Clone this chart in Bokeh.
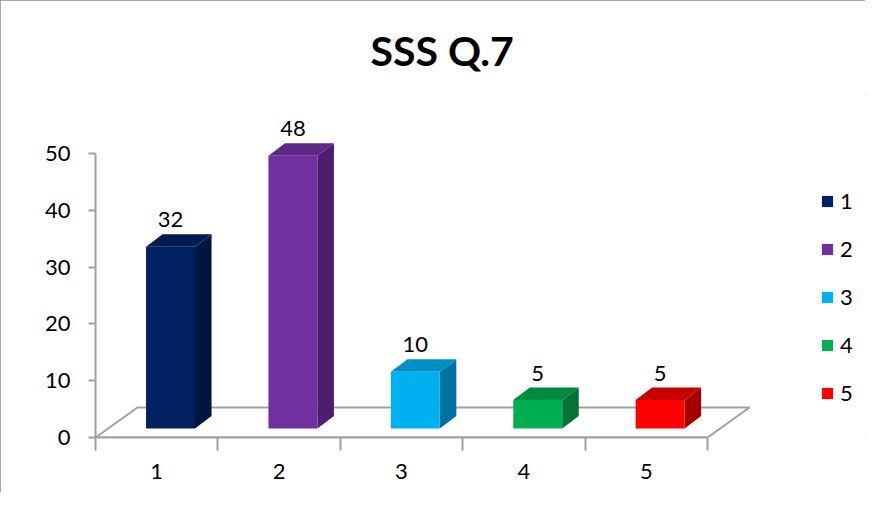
from bokeh.plotting import figure
from bokeh.models import (ColumnDataSource, Range1d, FixedTicker, LabelSet,
                          Legend, LegendItem)
from bokeh.core.properties import value
from bokeh.embed import file_html
from bokeh.resources import INLINE

# ---- data ----
categories = ["1", "2", "3", "4", "5"]
values = [32, 48, 10, 5, 5]
y_ticks = [0, 10, 20, 30, 40, 50]
title_text = "SSS Q.7"

# ---- styles ----
front_colors = ["#002060", "#7030A0", "#00B0F0", "#00B050", "#FF0000"]
side_colors = ["#00153f", "#4c1f6e", "#0072a0", "#007436", "#a50000"]
top_colors = ["#001a52", "#5e2888", "#0090c6", "#008a40", "#c40000"]
FONT = "Lato"
GRAY = "#a0a0a0"

n = len(categories)
xs = [i + 1 for i in range(n)]

# pseudo-3D geometry (data units)
BAR_W = 0.4
FRONT_DX, FRONT_DY = 0.113, 1.585
DEPTH_DX, DEPTH_DY = 0.135, 2.2
FLOOR_DX, FLOOR_DY = 0.343, 5.28

FRAME_W = 865 - 95
FRAME_H = 437 - 95
p = figure(width=865, height=492,
           x_range=Range1d(0.5, 0.5 + FRAME_W / 122.4),
           y_range=Range1d(0, FRAME_H / 5.68),
           output_backend="svg", toolbar_location=None,
           min_border_left=95, min_border_right=0,
           min_border_top=95, min_border_bottom=492 - 437,
           outline_line_color=None, background_fill_color="white",
           border_fill_color="white")
p.styles = {"outline": "1px solid #8e8e8e", "outline-offset": "-1px"}
p.xgrid.visible = False
p.ygrid.visible = False

# title
p.title.text = title_text
p.title.text_font = FONT
p.title.text_font_style = "bold"
p.title.text_font_size = "41px"
p.title.text_color = "black"
p.title.align = "left"
p.title.offset = 275
p.title.standoff = 41

# floor
p.patch([0.5, 5.5, 5.5 + FLOOR_DX, 0.5 + FLOOR_DX],
        [0, 0, FLOOR_DY, FLOOR_DY],
        fill_color=None, line_color=GRAY, line_width=2)

# bars
front_x = [x + FRONT_DX for x in xs]
side_xs, side_ys, top_xs, top_ys = [], [], [], []
for bx, v in zip(front_x, values):
    l, r = bx - BAR_W / 2, bx + BAR_W / 2
    b, t = FRONT_DY, FRONT_DY + v
    side_xs.append([r, r + DEPTH_DX, r + DEPTH_DX, r])
    side_ys.append([b, b + DEPTH_DY, t + DEPTH_DY, t])
    top_xs.append([l, r, r + DEPTH_DX, l + DEPTH_DX])
    top_ys.append([t, t, t + DEPTH_DY, t + DEPTH_DY])

p.patches(side_xs, side_ys, fill_color=side_colors, line_color=None)
p.patches(top_xs, top_ys, fill_color=top_colors, line_color=None)
src = ColumnDataSource(dict(
    x=front_x, top=[FRONT_DY + v for v in values], color=front_colors,
    lx=front_x,
    ly=[FRONT_DY + v + DEPTH_DY for v in values],
    txt=[str(v) for v in values]))
front_r = p.vbar(x="x", width=BAR_W, bottom=FRONT_DY, top="top",
                 fill_color="color", line_color=None, source=src)

labels = LabelSet(x="lx", y="ly", text="txt", source=src,
                  text_align="center", text_baseline="alphabetic",
                  y_offset=7, text_font=value(FONT),
                  text_font_size="22px", text_color="black")
p.add_layout(labels)

# axes
ya = p.yaxis[0]
ya.ticker = FixedTicker(ticks=y_ticks)
ya.bounds = (0, 50)
ya.axis_line_color = GRAY
ya.axis_line_width = 2
ya.major_tick_line_color = GRAY
ya.major_tick_line_width = 2
ya.major_tick_out = 7
ya.major_tick_in = 0
ya.minor_tick_line_color = None
ya.major_label_standoff = 18
ya.major_label_text_font = FONT
ya.major_label_text_font_size = "22px"
ya.major_label_text_color = "black"

xa = p.xaxis[0]
xa.ticker = FixedTicker(ticks=xs, minor_ticks=[x - 0.5 for x in xs] + [xs[-1] + 0.5])
xa.major_label_overrides = {x: c for x, c in zip(xs, categories)}
xa.bounds = (0.5, 5.5)
xa.axis_line_color = GRAY
xa.axis_line_width = 2
xa.major_tick_line_color = None
xa.major_tick_out = 0
xa.major_tick_in = 0
xa.minor_tick_line_color = GRAY
xa.minor_tick_line_width = 2
xa.minor_tick_out = 13
xa.minor_tick_in = 0
xa.major_label_standoff = 13
xa.major_label_text_font = FONT
xa.major_label_text_font_size = "22px"
xa.major_label_text_color = "black"

# legend
items = [LegendItem(label=c, renderers=[front_r], index=i)
         for i, c in enumerate(categories)]
legend = Legend(items=items, location=(725, 31),
                glyph_width=14, glyph_height=14, label_height=20,
                label_standoff=6, spacing=21, padding=0, margin=0,
                border_line_color=None, background_fill_alpha=0,
                label_text_font=FONT, label_text_font_size="22px",
                label_text_color="black")
p.add_layout(legend)

open("out.html", "w").write(file_html(p, INLINE))
